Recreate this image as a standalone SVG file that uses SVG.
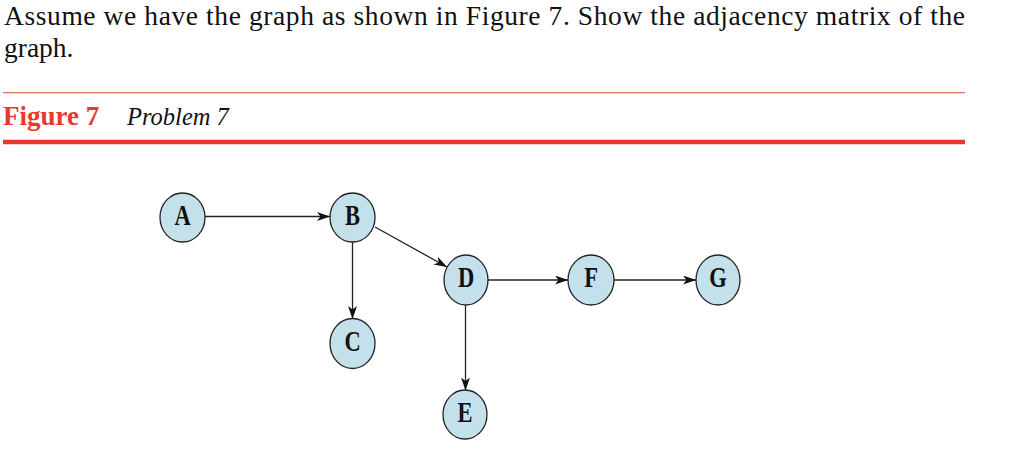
<svg xmlns="http://www.w3.org/2000/svg" width="1032" height="466" viewBox="0 0 1032 466">
<style>
.body{font-family:"Liberation Serif","Times New Roman",serif;font-size:27.5px;fill:#111}
.fig{font-family:"Liberation Serif",serif;font-size:27px;font-weight:bold;fill:#e8392a}
.cap{font-family:"Liberation Serif",serif;font-size:24.5px;font-style:italic;fill:#111}
.node ellipse{fill:#c3e0eb;stroke:#222;stroke-width:1.3}
.node text{font-family:"Liberation Serif",serif;font-size:30px;font-weight:bold;fill:#111;text-anchor:middle}
.edge{stroke:#222;stroke-width:1.3;fill:none;marker-end:url(#arr)}
</style>
<defs>
<marker id="arr" viewBox="0 0 13 9" refX="13" refY="4.5" markerWidth="13" markerHeight="9" markerUnits="userSpaceOnUse" orient="auto">
<path d="M0,0 L13,4.5 L0,9 L3.5,4.5 Z" fill="#111"/>
</marker>
</defs>
<rect width="1032" height="466" fill="#fff"/>
<text class="body" x="4" y="25" textLength="961" lengthAdjust="spacing">Assume we have the graph as shown in Figure 7. Show the adjacency matrix of the</text>
<text class="body" x="4" y="57">graph.</text>
<line x1="3" y1="92.7" x2="965" y2="92.7" stroke="#d6746c" stroke-width="1.3"/>
<text class="fig" x="3" y="125">Figure 7</text>
<text class="cap" x="127" y="125">Problem 7</text>
<line x1="3" y1="142" x2="965" y2="142" stroke="#e8392a" stroke-width="4.5"/>
<g id="edges">
<line class="edge" x1="205" y1="216.5" x2="330" y2="216.5"/>
<line class="edge" x1="352.5" y1="242" x2="352.5" y2="319"/>
<line class="edge" x1="375" y1="227" x2="447" y2="267"/>
<line class="edge" x1="488" y1="280" x2="568" y2="280"/>
<line class="edge" x1="614" y1="280" x2="696" y2="280"/>
<line class="edge" x1="465.5" y1="305.5" x2="465.5" y2="390.5"/>
</g>
<g id="node-A" class="node"><ellipse cx="182.5" cy="217.5" rx="22.5" ry="24.5"/><text transform="translate(182.5,224.5) scale(0.75,1)">A</text></g>
<g id="node-B" class="node"><ellipse cx="352.5" cy="217.5" rx="22.5" ry="24.5"/><text transform="translate(352.5,224.5) scale(0.75,1)">B</text></g>
<g id="node-C" class="node"><ellipse cx="352.5" cy="343.5" rx="22.5" ry="25"/><text transform="translate(352.5,351) scale(0.75,1)">C</text></g>
<g id="node-D" class="node"><ellipse cx="466" cy="280" rx="22" ry="25"/><text transform="translate(466,287) scale(0.75,1)">D</text></g>
<g id="node-E" class="node"><ellipse cx="465" cy="414.5" rx="22" ry="24.5"/><text transform="translate(465,421.5) scale(0.75,1)">E</text></g>
<g id="node-F" class="node"><ellipse cx="591" cy="280" rx="23" ry="25"/><text transform="translate(591,287) scale(0.75,1)">F</text></g>
<g id="node-G" class="node"><ellipse cx="718" cy="280" rx="22" ry="25"/><text transform="translate(718,287) scale(0.75,1)">G</text></g>
</svg>
